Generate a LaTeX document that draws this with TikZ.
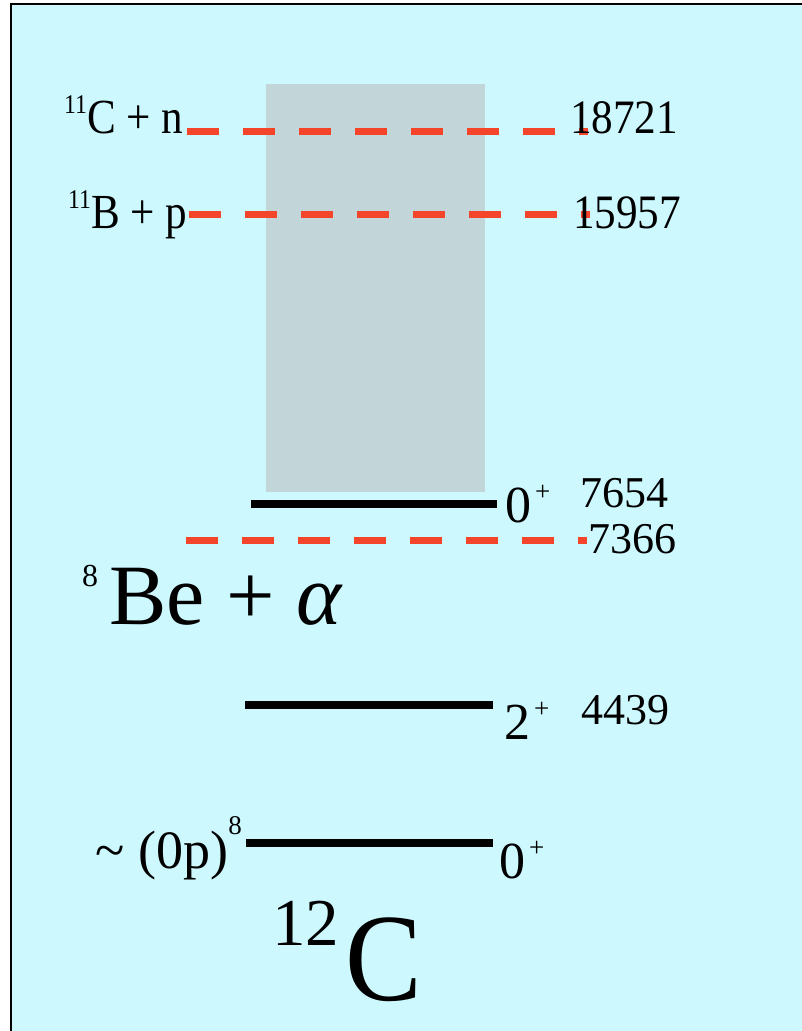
\documentclass[tikz,border=0pt]{standalone}
\usepackage{fontspec}
\setmainfont{Liberation Serif}
\newcommand{\upsc}[3]{\raisebox{#2pt}{\fontsize{#1}{#1}\selectfont #3}}
\definecolor{bgcyan}{HTML}{CCF8FE}
\definecolor{boxgray}{HTML}{C2D5D8}
\definecolor{thrred}{HTML}{F4452B}
\tikzset{
  lvl/.style={line width=8pt, black},
  thr/.style={line width=7pt, draw=thrred, dash pattern=on 32pt off 24pt},
  lbl/.style={anchor=base west, inner sep=0pt, xscale=0.88, font=\fontsize{49}{49}\selectfont},
  numbig/.style={anchor=base west, inner sep=0pt, xscale=0.9, font=\fontsize{48}{48}\selectfont},
  num/.style={anchor=base west, inner sep=0pt, font=\fontsize{44}{44}\selectfont},
  jpi/.style={anchor=base west, inner sep=0pt, font=\fontsize{52}{52}\selectfont}
}
\begin{document}
\begin{tikzpicture}[x=1pt,y=-1pt]
\useasboundingbox (0,0) rectangle (802,1031);
% background panel
\fill[bgcyan] (11,4) rectangle (802,1031);
\draw[line width=2pt] (11,1031) -- (11,4) -- (802,4);
% gray band
\fill[boxgray] (266,84) rectangle (485,492);
% thresholds
\coordinate (r1a) at (187,131); \coordinate (r1b) at (588,131);
\coordinate (r2a) at (189,214); \coordinate (r2b) at (590,214);
\coordinate (r3a) at (186,540); \coordinate (r3b) at (587,540);
\draw[thr] (r1a) -- (r1b);
\draw[thr] (r2a) -- (r2b);
\draw[thr] (r3a) -- (r3b);
% levels
\coordinate (l1a) at (251,504); \coordinate (l1b) at (497,504);
\coordinate (l2a) at (245,705); \coordinate (l2b) at (493,705);
\coordinate (l3a) at (246,843); \coordinate (l3b) at (493,843);
\draw[lvl] (l1a) -- (l1b);
\draw[lvl] (l2a) -- (l2b);
\draw[lvl] (l3a) -- (l3b);
% channel labels
\node[lbl] (cn) at (64,133) {\upsc{27}{20}{11}C + n};
\node[lbl] (bp) at (68,228) {\upsc{27}{20}{11}B + p};
\node[numbig] (e1) at (570,133) {18721};
\node[numbig] (e2) at (573,228) {15957};
\node[num] (e3) at (580,507) {7654};
\node[num] (e4) at (588,553) {7366};
\node[num] (e5) at (581,724) {4439};
% spins
\node[jpi] (j1) at (505,522) {0\kern4pt\upsc{27}{22}{+}};
\node[jpi] (j2) at (504,739) {2\kern4pt\upsc{27}{22}{+}};
\node[jpi] (j3) at (499,878) {0\kern4pt\upsc{27}{22}{+}};
% big labels
\node[anchor=base west, inner sep=0pt, font=\fontsize{86}{86}\selectfont] (bea) at (82,624)
  {\upsc{32}{38}{8}\kern11pt Be + \textit{α}};
\node[anchor=base west, inner sep=0pt, font=\fontsize{54}{54}\selectfont] (tp) at (95,868)
  {\textasciitilde\kern14pt(0p)\upsc{27}{34}{8}};
\node[anchor=base west, inner sep=0pt, font=\fontsize{125}{125}\selectfont] (c12) at (272,1000)
  {\upsc{67}{55}{12}\kern6pt\scalebox{0.92}[1]{C}};
\end{tikzpicture}
\end{document}
